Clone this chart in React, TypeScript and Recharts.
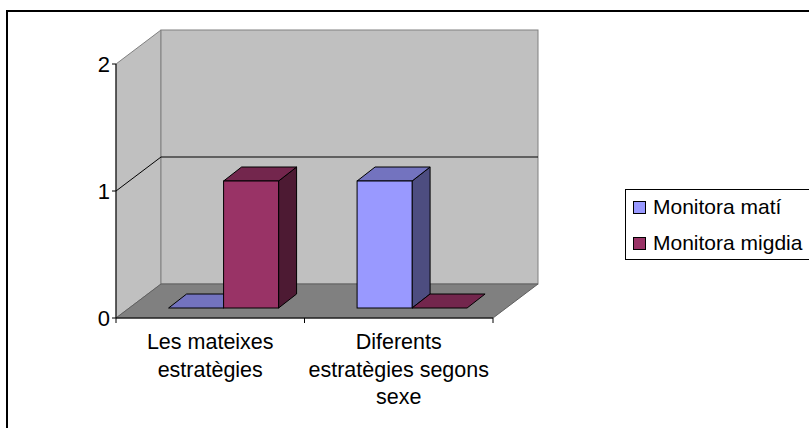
import { BarChart, Bar, XAxis, YAxis, ReferenceArea, Legend } from "recharts";

const categories = ["Les mateixes\nestratègies", "Diferents\nestratègies segons\nsexe"];
const matiValues = [0, 1];
const migdiaValues = [1, 0];
const yTicks = [0, 1, 2];
const seriesNames = ["Monitora matí", "Monitora migdia"];

const FONT = "'Liberation Sans', Arial, sans-serif";

const blue = { front: "#9999FF", top: "#7373BF", side: "#4D4D80" };
const red = { front: "#993366", top: "#73264D", side: "#4D1A33" };

const data = categories.map((c, i) => ({
  name: c,
  mati: matiValues[i],
  migdia: migdiaValues[i],
}));

// floor / wall depth
const DX = 45;
const DY = -34;

function Walls(props: any) {
  const { x, y, width, height } = props;
  const bottom = y + height;
  const right = x + width;
  const mid = y + height / 2;
  const pts = (a: number[][]) => a.map((p) => p.join(",")).join(" ");
  return (
    <g>
      {/* side wall */}
      <polygon
        points={pts([[x, bottom], [x, y], [x + DX, y + DY], [x + DX, bottom + DY]])}
        fill="#C0C0C0"
        stroke="#808080"
      />
      {/* back wall */}
      <rect x={x + DX} y={y + DY} width={width} height={height} fill="#C0C0C0" stroke="#808080" />
      {/* floor */}
      <polygon
        points={pts([[x, bottom], [right, bottom], [right + DX, bottom + DY], [x + DX, bottom + DY]])}
        fill="#808080"
        stroke="#606060"
      />
      {/* gridline at 1 */}
      <polyline
        points={pts([[x, mid], [x + DX, mid + DY], [right + DX, mid + DY]])}
        fill="none"
        stroke="#000"
      />
      {/* category boundary ticks */}
      {[0, 0.5, 1].map((f) => (
        <line key={f} x1={x + width * f} x2={x + width * f} y1={bottom} y2={bottom + 5} stroke="#000" />
      ))}
    </g>
  );
}

const makeBar = (c: { front: string; top: string; side: string }) => (props: any) => {
  const { x, y, width, height } = props;
  const sx = 13;
  const sy = -10;
  const dx = 18;
  const dy = -14;
  const x0 = x + sx;
  const y0 = y + sy;
  const w = width;
  const h = Math.max(0, height);
  const pts = (a: number[][]) => a.map((p) => p.join(",")).join(" ");
  return (
    <g>
      {h > 0 && (
        <polygon
          points={pts([[x0 + w, y0], [x0 + w + dx, y0 + dy], [x0 + w + dx, y0 + h + dy], [x0 + w, y0 + h]])}
          fill={c.side}
          stroke="#000"
          strokeLinejoin="round"
        />
      )}
      <polygon
        points={pts([[x0, y0], [x0 + dx, y0 + dy], [x0 + w + dx, y0 + dy], [x0 + w, y0]])}
        fill={c.top}
        stroke="#000"
        strokeLinejoin="round"
      />
      {h > 0 && <rect x={x0} y={y0} width={w} height={h} fill={c.front} stroke="#000" />}
    </g>
  );
};

function CategoryTick(props: any) {
  const { x, y, payload } = props;
  const lines = String(payload.value).split("\n");
  return (
    <text x={x} y={y + 31} textAnchor="middle" fontFamily={FONT} fontSize={21.5} fill="#000">
      {lines.map((l, i) => (
        <tspan key={i} x={x} dy={i === 0 ? 0 : 27.5}>
          {l}
        </tspan>
      ))}
    </text>
  );
}

function LegendBox() {
  const items = [
    { name: seriesNames[0], color: blue.front },
    { name: seriesNames[1], color: red.front },
  ];
  return (
    <div
      style={{
        border: "1.5px solid #000",
        width: 200,
        height: 71,
        boxSizing: "border-box",
        background: "#fff",
        fontFamily: FONT,
        fontSize: 21,
        color: "#000",
        position: "relative",
      }}
    >
      {items.map((it, i) => (
        <div key={it.name} style={{ position: "absolute", left: 7, top: 5 + i * 36, height: 24, display: "flex", alignItems: "center", whiteSpace: "nowrap" }}>
          <span style={{ width: 11, height: 11, background: it.color, border: "1px solid #000", marginRight: 7, display: "inline-block" }} />
          <span>{it.name}</span>
        </div>
      ))}
    </div>
  );
}

export default function App() {
  return (
    <div style={{ position: "absolute", left: 0, top: 0, width: 809, height: 428, overflow: "hidden", background: "#fff" }}>
      <div style={{ position: "absolute", left: 6, top: 10, width: 900, height: 600, border: "2px solid #000" }} />
      <div style={{ position: "absolute", left: 0, top: 0 }}>
        <BarChart
          width={809}
          height={428}
          data={data}
          margin={{ top: 64, right: 316, bottom: 0, left: 0 }}
          barCategoryGap="21%"
          barGap={0}
        >
          <ReferenceArea y1={0} y2={2} shape={<Walls />} fill="none" stroke="none" />
          <XAxis
            dataKey="name"
            height={110}
            tickLine={false}
            tickSize={0}
            tickMargin={0}
            axisLine={{ stroke: "#000" }}
            tick={<CategoryTick />}
            interval={0}
          />
          <YAxis
            width={116}
            domain={[0, 2]}
            ticks={yTicks}
            allowDecimals={false}
            tickSize={4}
            tickMargin={2}
            axisLine={{ stroke: "#000" }}
            tickLine={{ stroke: "#000" }}
            tick={{ fill: "#000", fontSize: 22, fontFamily: FONT }}
          />
          <Bar dataKey="mati" name={seriesNames[0]} fill={blue.front} shape={makeBar(blue)} isAnimationActive={false} />
          <Bar dataKey="migdia" name={seriesNames[1]} fill={red.front} shape={makeBar(red)} isAnimationActive={false} />
          <Legend
            layout="horizontal"
            verticalAlign="middle"
            align="center"
            content={<LegendBox />}
            wrapperStyle={{ left: 625, top: 189, width: 200, height: 71 }}
          />
        </BarChart>
      </div>
    </div>
  );
}
